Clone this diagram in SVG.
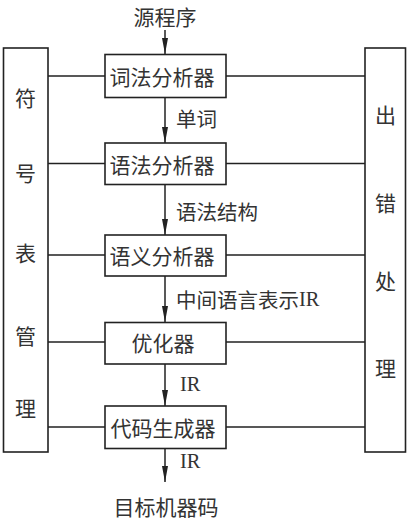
<svg xmlns="http://www.w3.org/2000/svg" width="409" height="521" viewBox="0 0 409 521">
<defs>
<style>
.box{fill:#fff;stroke:#222;stroke-width:1.6}
.ln{stroke:#222;stroke-width:1.5;fill:none}
.ah{fill:#222}
.t{font-family:"Noto Sans CJK SC","Noto Sans",sans-serif;font-size:21px;fill:#333;text-anchor:middle;dominant-baseline:central}
.lb{font-family:"Noto Sans CJK SC","Noto Sans",sans-serif;font-size:20.5px;fill:#333;dominant-baseline:central}
.ir{font-family:"Liberation Serif",serif;font-size:20.5px}
</style>
</defs>
<rect width="409" height="521" fill="#fff"/>
<g id="connectors">
<path class="ln" d="M165,30 V54"/>
<path class="ln" d="M165,97 V143"/>
<path class="ln" d="M165,184 V235"/>
<path class="ln" d="M165,276 V322"/>
<path class="ln" d="M165,364 V406"/>
<path class="ln" d="M165,448 V482"/>
<path class="ln" d="M48,76 H105 M226,76 H365"/>
<path class="ln" d="M48,163.5 H105 M226,163.5 H365"/>
<path class="ln" d="M48,255 H105 M226,255 H365"/>
<path class="ln" d="M48,342 H105 M226,342 H365"/>
<path class="ln" d="M48,427 H105 M226,427 H365"/>
<path class="ah" d="M162,38 L165,54 L168,38 Z"/>
<path class="ah" d="M162,127 L165,143 L168,127 Z"/>
<path class="ah" d="M162,219 L165,235 L168,219 Z"/>
<path class="ah" d="M162,306 L165,322 L168,306 Z"/>
<path class="ah" d="M162,390 L165,406 L168,390 Z"/>
<path class="ah" d="M162,466 L165,482 L168,466 Z"/>
</g>
<g id="symtab">
<rect class="box" x="3.5" y="48" width="44.5" height="404"/>
<text class="t" x="25.5" y="97">符</text>
<text class="t" x="25.5" y="172">号</text>
<text class="t" x="25.5" y="252">表</text>
<text class="t" x="25.5" y="335">管</text>
<text class="t" x="25.5" y="407">理</text>
</g>
<g id="errors">
<rect class="box" x="365" y="48" width="40.5" height="404"/>
<text class="t" x="385.5" y="114">出</text>
<text class="t" x="385.5" y="202">错</text>
<text class="t" x="385.5" y="280">处</text>
<text class="t" x="385.5" y="367">理</text>
</g>
<g id="lexer">
<rect class="box" x="105" y="54.5" width="121" height="43"/>
<text class="t" x="162" y="76">词法分析器</text>
</g>
<g id="parser">
<rect class="box" x="105" y="143" width="121" height="41.5"/>
<text class="t" x="162" y="163.5">语法分析器</text>
</g>
<g id="semantic">
<rect class="box" x="105" y="235" width="121" height="41"/>
<text class="t" x="162" y="255">语义分析器</text>
</g>
<g id="optimizer">
<rect class="box" x="105" y="322.5" width="121" height="41.5"/>
<text class="t" x="163" y="342">优化器</text>
</g>
<g id="codegen">
<rect class="box" x="105" y="406" width="121" height="42.5"/>
<text class="t" x="163" y="427">代码生成器</text>
</g>
<g id="labels">
<text class="t" x="165" y="16">源程序</text>
<text class="lb" x="176" y="118">单词</text>
<text class="lb" x="176" y="211">语法结构</text>
<text class="lb" x="176" y="299">中间语言表示<tspan class="ir">IR</tspan></text>
<text class="lb ir" x="180" y="384">IR</text>
<text class="lb ir" x="180" y="461">IR</text>
<text class="t" x="166" y="506">目标机器码</text>
</g>
</svg>
